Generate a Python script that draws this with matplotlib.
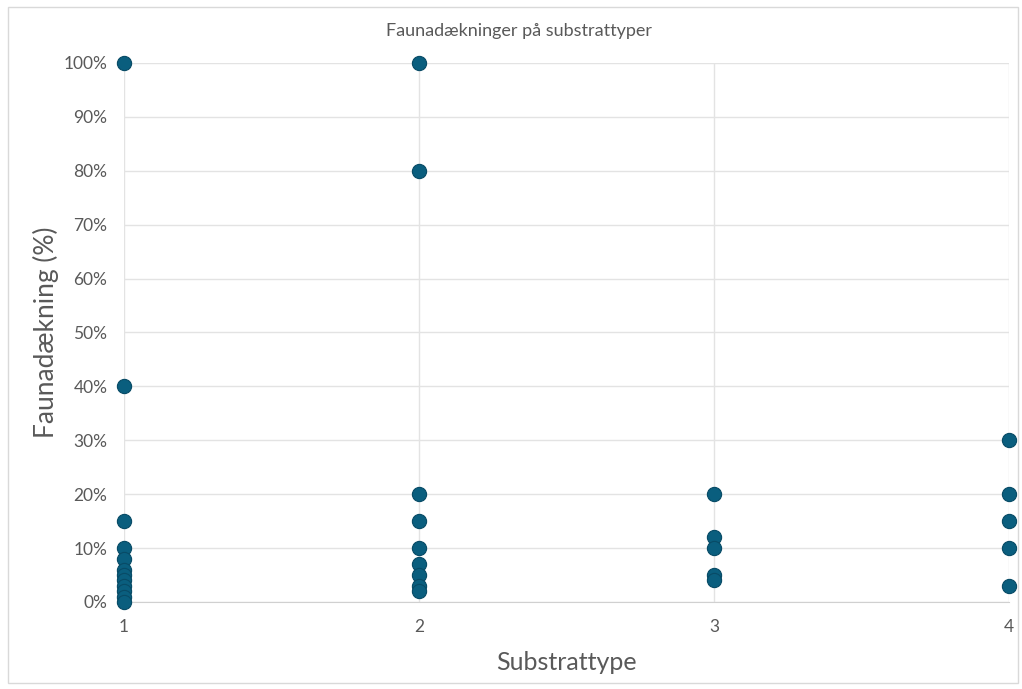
import matplotlib.pyplot as plt
from matplotlib.ticker import PercentFormatter

plt.rcParams['font.family'] = ['Lato', 'DejaVu Sans']

# faunadækning (%) pr. substrattype
sub1 = [100, 40, 15, 10, 8, 6, 5, 4, 3, 2, 1, 0]
sub2 = [100, 80, 20, 15, 10, 7, 5, 3, 2]
sub3 = [20, 12, 10, 5, 4]
sub4 = [30, 20, 15, 10, 3]
substrattyper = [1, 2, 3, 4]
daekning = [sub1, sub2, sub3, sub4]

xs = []
ys = []
for s, vals in zip(substrattyper, daekning):
    xs += [s] * len(vals)
    ys += vals

fig = plt.figure(figsize=(10.22, 6.89), dpi=100)
ax = fig.add_axes([0.1213, 0.1263, 0.866, 0.7823])

ax.scatter(xs, ys, s=105, color='#0A5E7E', edgecolor='#084B66', linewidth=0.8,
           zorder=3, clip_on=False)

ax.set_xlim(1, 4)
ax.set_ylim(0, 100)
ax.set_xticks(substrattyper)
ax.set_yticks(range(0, 101, 10))
ax.yaxis.set_major_formatter(PercentFormatter(decimals=0))

ax.grid(True, color='#E3E3E3', linewidth=1)
ax.set_axisbelow(True)
for side in ['top', 'right', 'left']:
    ax.spines[side].set_visible(False)
ax.spines['bottom'].set_color('#D0D0D0')
ax.tick_params(length=0, labelsize=12.5, labelcolor='#595959', pad=12)

ax.set_xlabel('Substrattype', fontsize=18, color='#595959', labelpad=12)
ax.set_ylabel('Faunadækning (%)', fontsize=19, color='#595959', labelpad=3)
fig.text(0.5078, 0.955, 'Faunadækninger på substrattyper', ha='center', va='center',
         fontsize=13, color='#595959')

# tynd ramme om hele diagrammet
fig.patches.append(plt.Rectangle((0.008, 0.008), 0.988, 0.982, transform=fig.transFigure,
                                 fill=False, edgecolor='#D9D9D9', linewidth=1))

fig.savefig('out.png', dpi=100)
